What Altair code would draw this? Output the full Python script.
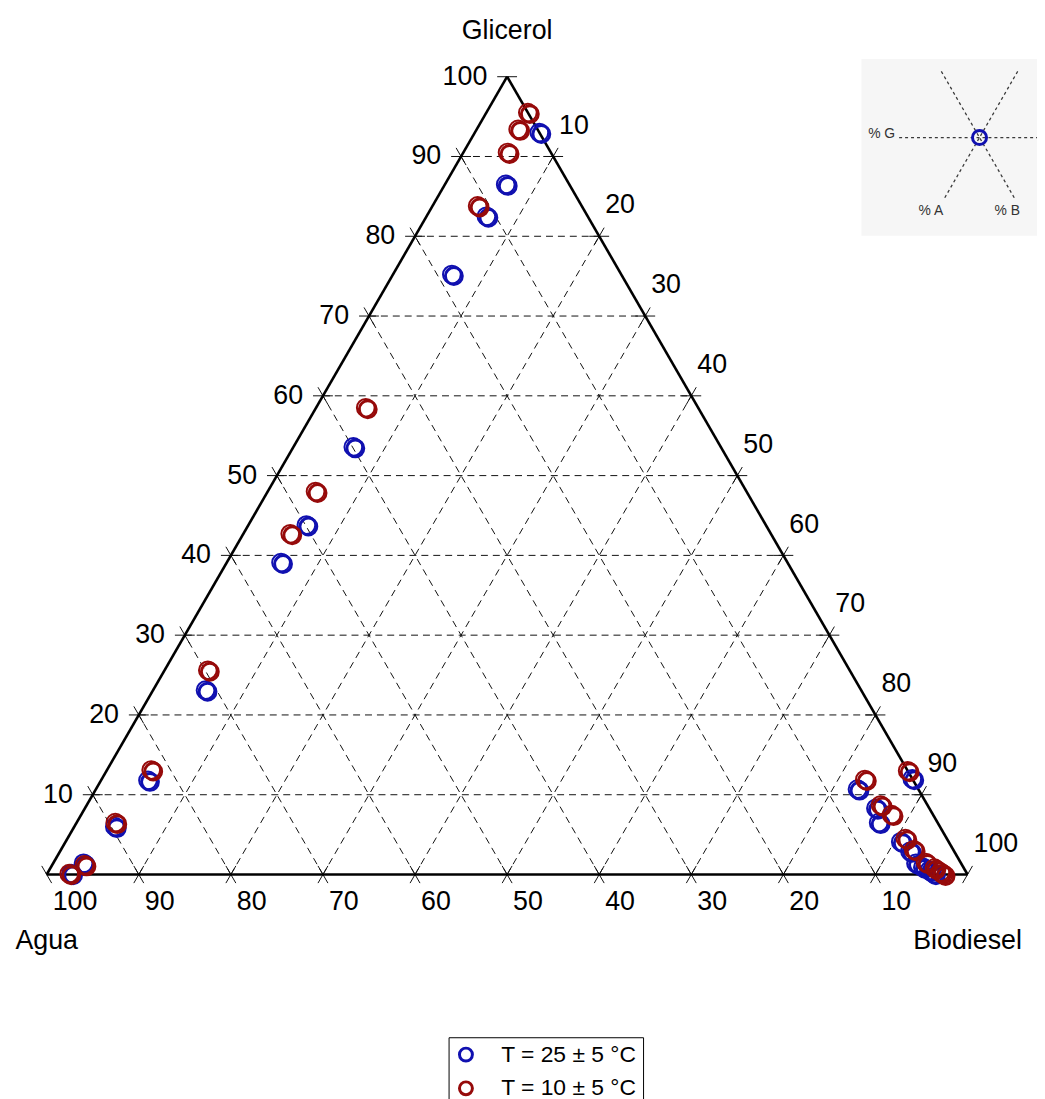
import math
import altair as alt
import pandas as pd

SQ = math.sqrt(3) / 2
W, H = 928, 804
PX = 1.0 / 928.0  # one pixel expressed in data units
FONT = "Liberation Sans"

# ---------------- data (% Glicerol, % Biodiesel; % Agua is the remainder)
series_names = ["T = 25 ± 5 °C", "T = 10 ± 5 °C"]
series_colors = ["#1010b0", "#960a0a"]

g25 = [93.0, 86.5, 82.5, 75.2, 53.6, 43.8, 39.1, 23.1, 11.8, 6.0, 1.4, 0.1,
       12.0, 10.7, 8.3, 6.5, 4.1, 2.9, 1.4, 0.9, 0.5, 0.1]
b25 = [7.0, 6.6, 6.5, 6.4, 6.5, 6.3, 5.9, 5.7, 5.1, 4.4, 3.3, 2.6,
       88.0, 82.7, 85.9, 87.1, 90.7, 92.3, 93.7, 94.7, 95.6, 96.3]
g10 = [95.5, 93.4, 90.5, 83.8, 58.5, 48.0, 42.7, 25.6, 13.1, 6.5, 1.2, 0.1,
       13.0, 11.9, 8.7, 7.5, 4.5, 3.1, 1.5, 0.8, 0.3, 0.0]
b10 = [4.5, 4.5, 4.8, 4.9, 5.4, 5.2, 5.1, 4.7, 4.8, 4.2, 3.5, 2.4,
       87.0, 82.9, 86.2, 88.0, 91.0, 92.6, 94.7, 96.0, 96.9, 97.4]

tick_values = [10, 20, 30, 40, 50, 60, 70, 80, 90, 100]
axis_titles = ["Glicerol", "Agua", "Biodiesel"]
inset_labels = ["% G", "% A", "% B"]


def pos(b, g):
    """ternary (biodiesel %, glicerol %) -> cartesian data coords"""
    return (b + g / 2.0) / 100.0, g / 100.0 * SQ


# ---------------- points
rows = []
for name, gs, bs in [(series_names[0], g25, b25), (series_names[1], g10, b10)]:
    for g, b in zip(gs, bs):
        x, y = pos(b, g)
        rows.append({"serie": name, "Glicerol": g, "Biodiesel": b,
                     "Agua": round(100 - g - b, 1), "x": x, "y": y})
pts = pd.DataFrame(rows)

# ---------------- grid lines and ticks
T = 10 * PX
families = [
    (lambda k: (pos(0, k), pos(100 - k, k)), (1.0, 0.0)),          # constant G
    (lambda k: (pos(100 - k, 0), pos(0, 100 - k)), (-0.5, SQ)),    # constant A
    (lambda k: (pos(k, 0), pos(k, 100 - k)), (0.5, SQ)),           # constant B
]
grid_rows, tick_rows = [], []
for ends, (dx, dy) in families:
    for k in tick_values:
        p1, p2 = ends(k)
        if k < 100:
            grid_rows.append({"x": p1[0], "y": p1[1], "x2": p2[0], "y2": p2[1]})
            pts_end = [p1, p2]
        else:
            pts_end = [p1]
        for p in pts_end:
            tick_rows.append({"x": p[0] - dx * T, "y": p[1] - dy * T,
                              "x2": p[0] + dx * T, "y2": p[1] + dy * T})
grid = pd.DataFrame(grid_rows)
ticks = pd.DataFrame(tick_rows)

va, vb, vg = pos(0, 0), pos(100, 0), pos(0, 100)
edges = pd.DataFrame([
    {"x": va[0], "y": va[1], "x2": vb[0], "y2": vb[1]},
    {"x": vb[0], "y": vb[1], "x2": vg[0], "y2": vg[1]},
    {"x": vg[0], "y": vg[1], "x2": va[0], "y2": va[1]},
])

# ---------------- tick labels
left_lab = pd.DataFrame([{"x": pos(0, k)[0], "y": pos(0, k)[1], "t": str(k)} for k in tick_values])
bottom_lab = pd.DataFrame([{"x": pos(100 - k, 0)[0], "y": 0.0, "t": str(k)} for k in tick_values])
right_lab = pd.DataFrame([{"x": pos(k, 100 - k)[0], "y": pos(k, 100 - k)[1], "t": str(k)} for k in tick_values])
titles = pd.DataFrame([
    {"x": vg[0], "y": vg[1], "t": axis_titles[0], "dy": -38},
    {"x": va[0], "y": va[1], "t": axis_titles[1], "dy": 75},
    {"x": vb[0], "y": vb[1], "t": axis_titles[2], "dy": 75},
])

# ---------------- inset (reading guide)
cx, cy = 1.013, 0.800
UP, DN = 77 * PX, 70 * PX
inset_box = pd.DataFrame([{"x": cx - 119 * PX, "x2": cx + 58 * PX,
                           "y": cy - 99 * PX, "y2": cy + 79 * PX}])
inset_lines = pd.DataFrame([
    {"x": cx - 81 * PX, "y": cy, "x2": cx + 58 * PX, "y2": cy},
    {"x": cx - 0.5 * DN, "y": cy - SQ * DN, "x2": cx + 0.5 * UP, "y2": cy + SQ * UP},
    {"x": cx + 0.5 * DN, "y": cy - SQ * DN, "x2": cx - 0.5 * UP, "y2": cy + SQ * UP},
])
inset_text = pd.DataFrame([
    {"x": cx - 85 * PX, "y": cy + 4 * PX, "t": inset_labels[0]},
    {"x": cx - 49 * PX, "y": cy - 74 * PX, "t": inset_labels[1]},
    {"x": cx + 28 * PX, "y": cy - 74 * PX, "t": inset_labels[2]},
])
inset_pt = pd.DataFrame([{"x": cx, "y": cy}])

# ---------------- encodings
XS = alt.Scale(domain=[0, 1], nice=False, zero=False)
YS = alt.Scale(domain=[0, SQ], nice=False, zero=False)
X = alt.X("x:Q", scale=XS, axis=None)
Y = alt.Y("y:Q", scale=YS, axis=None)

box = alt.Chart(inset_box).mark_rect(color="#f6f6f6").encode(
    x=X, y=Y, x2="x2:Q", y2="y2:Q")
ilines = alt.Chart(inset_lines).mark_rule(color="#3a3a3a", strokeWidth=1.3, strokeDash=[3, 3]).encode(
    x=X, y=Y, x2="x2:Q", y2="y2:Q")
itext_r = alt.Chart(inset_text.iloc[[0]]).mark_text(font=FONT, fontSize=14, color="#333333",
                                                    baseline="middle", align="right").encode(x=X, y=Y, text="t:N")
itext_c = alt.Chart(inset_text.iloc[[1, 2]]).mark_text(font=FONT, fontSize=14, color="#333333",
                                                       baseline="middle", align="center").encode(x=X, y=Y, text="t:N")
ipoint = alt.Chart(inset_pt).mark_point(shape="circle", filled=False, size=200, strokeWidth=3,
                                        color=series_colors[0], opacity=1).encode(x=X, y=Y)

grid_l = alt.Chart(grid).mark_rule(color="#111111", strokeWidth=1, strokeDash=[7, 5]).encode(
    x=X, y=Y, x2="x2:Q", y2="y2:Q")
tick_l = alt.Chart(ticks).mark_rule(color="#111111", strokeWidth=1).encode(
    x=X, y=Y, x2="x2:Q", y2="y2:Q")
edge_l = alt.Chart(edges).mark_rule(color="black", strokeWidth=2.6).encode(
    x=X, y=Y, x2="x2:Q", y2="y2:Q")

lab_left = alt.Chart(left_lab).mark_text(font=FONT, fontSize=27, align="right", baseline="alphabetic",
                                         dx=-20, dy=8).encode(x=X, y=Y, text="t:N")
lab_bottom = alt.Chart(bottom_lab).mark_text(font=FONT, fontSize=27, align="left", baseline="alphabetic",
                                             dx=6, dy=36).encode(x=X, y=Y, text="t:N")
lab_right = alt.Chart(right_lab).mark_text(font=FONT, fontSize=27, align="left", baseline="alphabetic",
                                           dx=6, dy=-23).encode(x=X, y=Y, text="t:N")
title_layers = []
for _, r in titles.iterrows():
    title_layers.append(
        alt.Chart(titles[titles.t == r.t]).mark_text(font=FONT, fontSize=27, align="center",
                                                     baseline="alphabetic", dy=int(r.dy)).encode(
            x=X, y=Y, text="t:N"))

color = alt.Color("serie:N", scale=alt.Scale(domain=series_names, range=series_colors),
                  legend=alt.Legend(title=None, orient="none", legendX=405, legendY=968,
                                    strokeColor="black", fillColor="white", padding=6,
                                    labelFont=FONT, labelFontSize=23, labelColor="black",
                                    symbolType="circle", symbolSize=170, symbolStrokeWidth=3,
                                    labelOffset=24, rowPadding=7))

point_layers = []
for name in series_names:
    base = alt.Chart(pts[pts.serie == name]).encode(
        x=X, y=Y, color=color,
        tooltip=["serie:N", "Agua:Q", "Biodiesel:Q", "Glicerol:Q"])
    point_layers.append(base.mark_point(shape="circle", filled=False, size=320, strokeWidth=2, opacity=1))
    point_layers.append(base.mark_point(shape="circle", filled=False, size=290, strokeWidth=3,
                                        xOffset=2, yOffset=1.5, opacity=1))

chart = alt.layer(
    box, ilines, itext_r, itext_c, ipoint,
    grid_l, tick_l, edge_l,
    lab_left, lab_bottom, lab_right, *title_layers,
    *point_layers,
).properties(
    width=W, height=H,
    autosize=alt.AutoSizeParams(type="none"),
    padding={"left": 39, "top": 65, "right": 70, "bottom": 222},
).configure_view(stroke=None)

chart.save("out.html", embed_options={"renderer": "svg", "actions": False})
